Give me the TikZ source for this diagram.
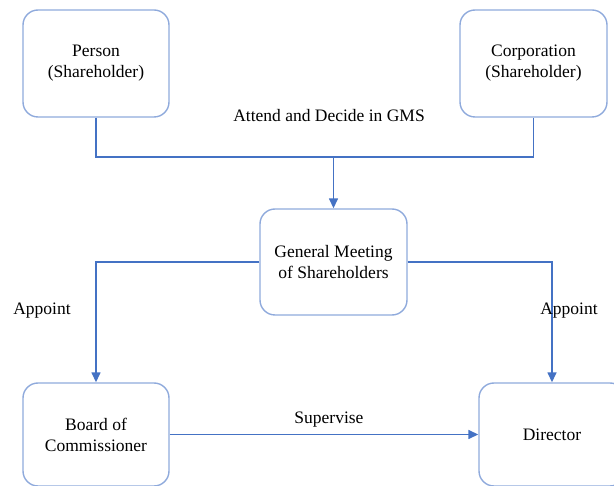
\documentclass[tikz,border=0pt]{standalone}
\usepackage{fontspec}
\setmainfont{Liberation Serif}
\usetikzlibrary{arrows.meta}
\definecolor{boxblue}{RGB}{143,170,220}
\definecolor{lineblue}{RGB}{68,114,196}
\begin{document}
\begin{tikzpicture}[x=1pt,y=-1pt,
  box/.style={draw=boxblue,line width=1.4pt,rounded corners=15pt,align=center,
    font=\fontsize{17.5}{21}\selectfont,inner sep=0pt},
  conn/.style={draw=lineblue,line width=1.5pt},
  arr/.style={conn,-{Triangle[width=9pt,length=10pt]}},
  lbl/.style={font=\fontsize{17.5}{21}\selectfont,inner sep=0pt}]
\clip (0,0) rectangle (614,486);
\node[box,minimum width=146pt,minimum height=107pt] (person) at (96,63.5) {Person\\(Shareholder)};
\node[box,minimum width=147pt,minimum height=107pt] (corp) at (533.5,63.5) {Corporation\\(Shareholder)};
\node[box,minimum width=147pt,minimum height=106pt] (gms) at (333.5,262) {General Meeting\\of Shareholders};
\node[box,minimum width=146pt,minimum height=103pt] (board) at (96,434.5) {Board of\\Commissioner};
\node[box,minimum width=146pt,minimum height=103pt] (director) at (552,434.5) {Director};
\coordinate (j) at (333.5,157);
\draw[conn] (person.south) |- (j);
\draw[conn] (corp.south) |- (j);
\draw[arr] (j) -- (gms.north);
\draw[arr] (gms.west) -| (board.north);
\draw[arr] (gms.east) -| (director.north);
\draw[arr] (board.east) -- (director.west);
\node[lbl] (l1) at (329,116) {Attend and Decide in GMS};
\node[lbl] (l2) at (42,311) {Appoint};
\node[lbl] (l3) at (569,311) {Appoint};
\node[lbl] (l4) at (329,420) {Supervise};
\end{tikzpicture}
\end{document}
